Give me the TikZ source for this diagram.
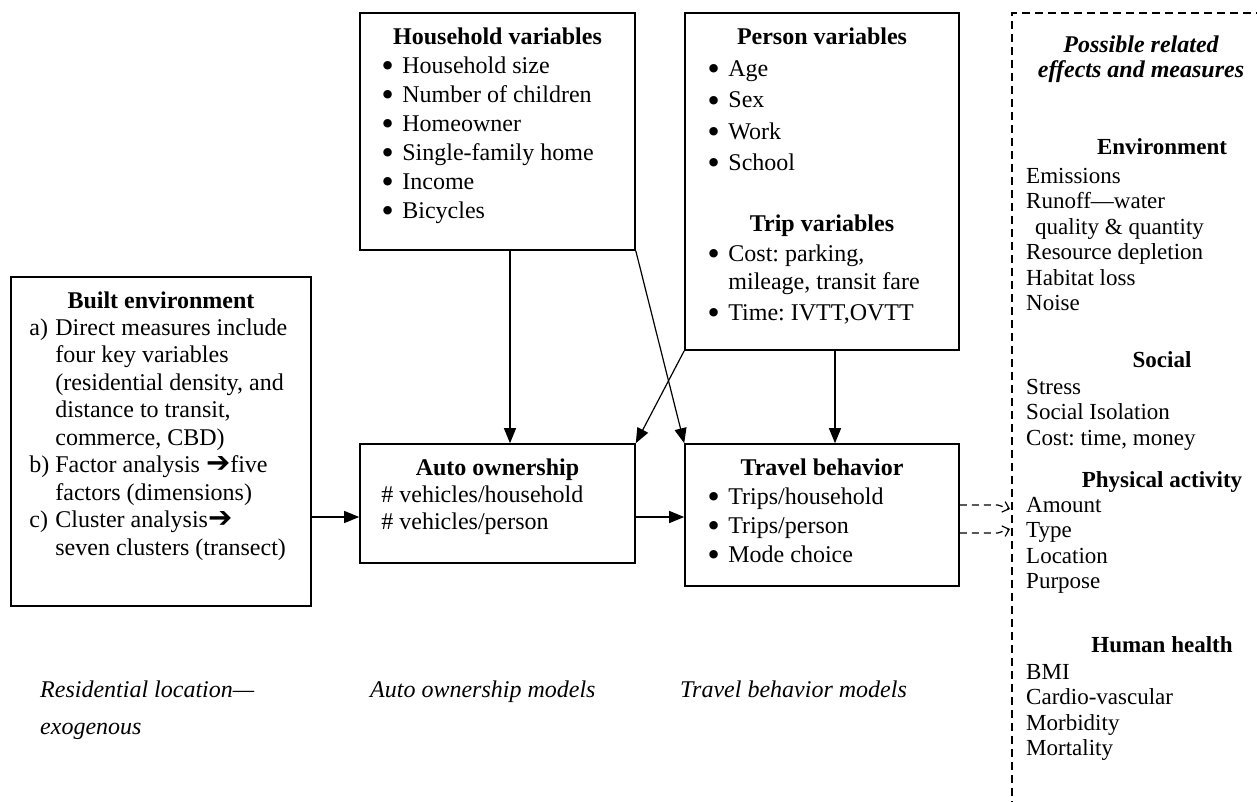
\documentclass[tikz,border=0pt]{standalone}
\usepackage{fontspec}
\setmainfont{Liberation Serif}
\newfontfamily\symfont{DejaVu Sans}
\usetikzlibrary{arrows.meta,positioning}

\newcommand{\blt}{\makebox[23pt][l]{\raisebox{-3.5pt}{\symfont\fontsize{29}{29}\selectfont\char"2022}}}
\newcommand{\rarr}{{\symfont\fontsize{29}{29}\selectfont\char"2794}}
\newcommand{\lbl}[1]{\makebox[26pt][l]{#1}}

\begin{document}
\frenchspacing
\fontsize{24}{27.6}\selectfont
\begin{tikzpicture}[x=1pt, y=-1pt,
  box/.style={draw, line width=1.6pt, inner sep=0pt},
  head/.style={font=\bfseries, inner sep=0pt, execute at begin node=\strut},
  blist/.style={align=left, inner sep=0pt, font=\fontsize{24}{#1}\selectfont},
  capt/.style={align=left, anchor=north west, inner sep=0pt, font=\itshape\fontsize{24}{37}\selectfont},
  rtitle/.style={align=center, anchor=north, inner sep=0pt, font=\bfseries\itshape\fontsize{24}{25}\selectfont},
  rhead/.style={anchor=base, inner sep=0pt, font=\bfseries\fontsize{23}{25.5}\selectfont},
  ritems/.style={align=left, anchor=north west, inner sep=0pt, font=\fontsize{23}{25.5}\selectfont},
  arr/.style={-{Triangle[length=15pt,width=12pt]}, line width=1.2pt},
  dasharr/.style={-{Straight Barb[length=6pt,width=11pt]}, line width=1.2pt, dash pattern=on 7pt off 5pt},
  effframe/.style={line width=1.3pt, dash pattern=on 8pt off 5pt}
]
\useasboundingbox (0,0) rectangle (1257,802);
\clip (0,0) rectangle (1257,802);

% boxes
\node[box, minimum width=275pt, minimum height=237pt] (hh) at (497.5,131.5) {};
\node[box, minimum width=274pt, minimum height=337pt] (pv) at (822,181.5) {};
\node[box, minimum width=300pt, minimum height=329pt] (be) at (161,441.5) {};
\node[box, minimum width=275pt, minimum height=119pt] (ao) at (497.5,503.5) {};
\node[box, minimum width=274pt, minimum height=142pt] (tb) at (822,515) {};

% household variables
\node[head, below=12.7pt of hh.north] (hhtitle) {Household variables};
\node[blist=29, below right=40.7pt and 20pt of hh.north west] (hhlist)
  {\strut\blt Household size\\ \blt Number of children\\ \blt Homeowner\\
   \blt Single-family home\\ \blt Income\\ \blt Bicycles};

% person and trip variables
\node[head, below=12.7pt of pv.north] (pvtitle) {Person variables};
\node[blist=31.3, below right=42.1pt and 21pt of pv.north west] (pvlist)
  {\strut\blt Age\\ \blt Sex\\ \blt Work\\ \blt School};
\node[head, below=199.7pt of pv.north] (tvtitle) {Trip variables};
\node[blist=27.6, below right=229.7pt and 21pt of pv.north west] (tvlist)
  {\strut\blt Cost: parking,\\ \hspace*{23pt}mileage, transit fare\\[3.5pt] \blt Time: IVTT,OVTT};

% built environment
\node[head, below=12.7pt of be.north] (betitle) {Built environment};
\node[blist=27.5, below right=39.75pt and 19pt of be.north west] (belist)
  {\strut\lbl{a)}Direct measures include\\
   \hspace*{26pt}four key variables\\
   \hspace*{26pt}(residential density, and\\
   \hspace*{26pt}distance to transit,\\
   \hspace*{26pt}commerce, CBD)\\
   \lbl{b)}Factor analysis \rarr five\\
   \hspace*{26pt}factors (dimensions)\\
   \lbl{c)}Cluster analysis\rarr\\
   \hspace*{26pt}seven clusters (transect)};

% auto ownership
\node[head, below=12.7pt of ao.north] (aotitle) {Auto ownership};
\node[blist=27, below right=40.1pt and 22pt of ao.north west] (aolist)
  {\strut\# vehicles/household\\ \# vehicles/person};

% travel behavior
\node[head, below=12.7pt of tb.north] (tbtitle) {Travel behavior};
\node[blist=29, below right=40.7pt and 21pt of tb.north west] (tblist)
  {\strut\blt Trips/household\\ \blt Trips/person\\ \blt Mode choice};

% model captions
\node[capt] (rlcap) at (40,671.1) {\strut Residential location—\\exogenous};
\node[capt] (aocap) at (370,671.1) {\strut Auto ownership models};
\node[capt] (tbcap) at (680,671.1) {\strut Travel behavior models};

% effects and measures
\draw[effframe] (1290,13) -- (1012,13) -- (1012,830);
\node[rtitle] (efftitle) at (1141,34.5) {\strut Possible related\\effects and measures};
\node[rhead] (envhead) at (1162,155) {Environment};
\node[ritems] (envitems) at (1026,165.15)
  {\strut Emissions\\ Runoff—water\\ \hspace*{9pt}quality \& quantity\\ Resource depletion\\ Habitat loss\\ Noise};
\node[rhead] (sochead) at (1162,367) {Social};
\node[ritems] (socitems) at (1026,376.15) {\strut Stress\\ Social Isolation\\ Cost: time, money};
\node[rhead] (pahead) at (1162,487) {Physical activity};
\node[ritems] (paitems) at (1026,494.15) {\strut Amount\\ Type\\ Location\\ Purpose};
\node[rhead] (hlthhead) at (1162,652) {Human health};
\node[ritems] (hlthitems) at (1026,661.15) {\strut BMI\\ Cardio-vascular\\ Morbidity\\ Mortality};

% connectors
\coordinate (midrow) at (0,517);
\coordinate (row1) at (0,505);
\coordinate (row2) at (0,533);
\coordinate (fx1) at (1010,509);
\coordinate (fx2) at (1010,529);
\draw[arr] (be.east |- midrow) -- (ao.west |- midrow);
\draw[arr] (ao.east |- midrow) -- (tb.west |- midrow);
\draw[arr] ([xshift=12.5pt]hh.south) -- ([xshift=12.5pt]ao.north);
\draw[arr] (hh.south east) -- (tb.north west);
\draw[arr] (pv.south west) -- (ao.north east);
\draw[arr] ([xshift=13pt]pv.south) -- ([xshift=13pt]tb.north);
\draw[dasharr] (tb.east |- row1) -- ++(38,0) -- (fx1);
\draw[dasharr] (tb.east |- row2) -- ++(38,0) -- (fx2);

\end{tikzpicture}
\end{document}
